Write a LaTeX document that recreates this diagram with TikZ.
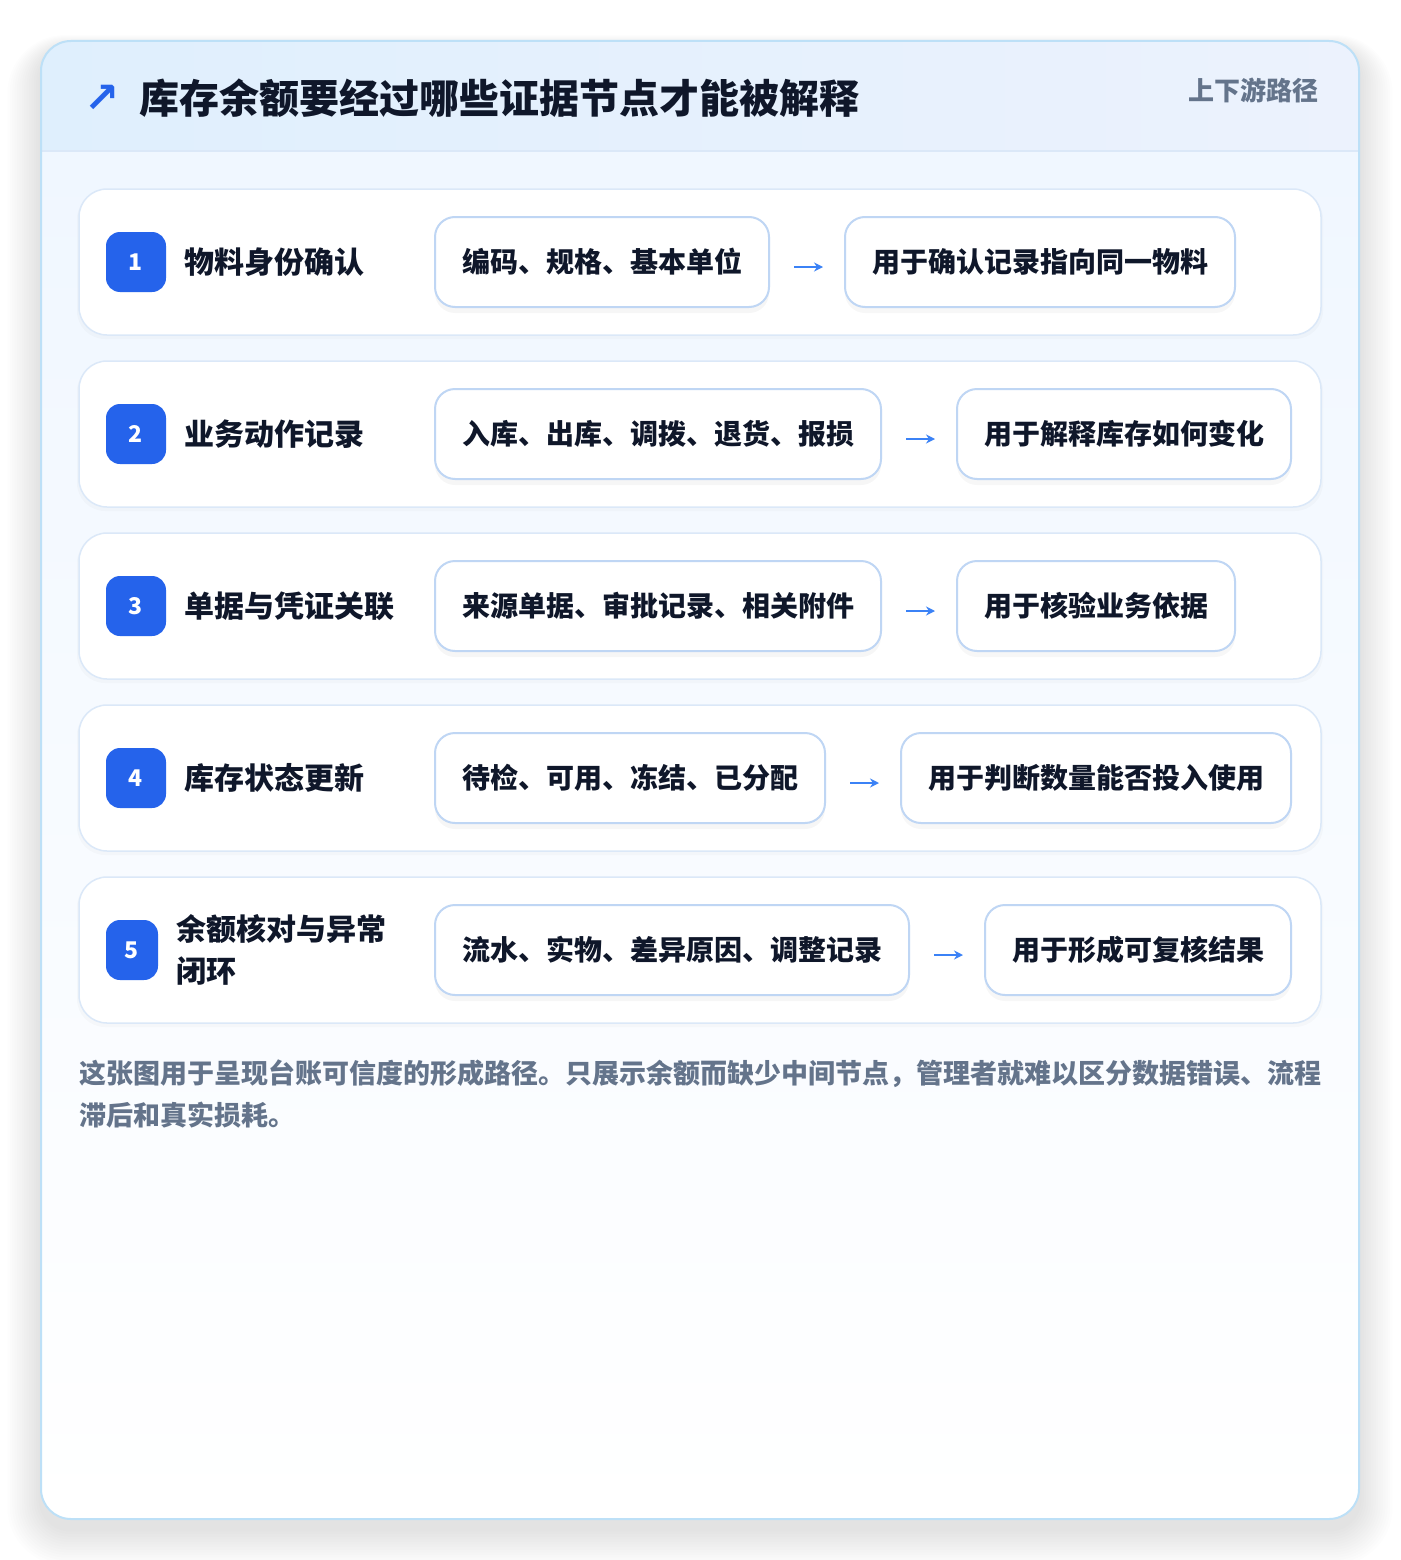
\documentclass[tikz,border=0pt]{standalone}
\usepackage{fontspec}
\setmainfont{Noto Sans CJK SC}
\newfontfamily\symfont{DejaVu Sans}
\usetikzlibrary{arrows.meta,calc}
\definecolor{ink}{HTML}{0F172A}
\definecolor{muted}{HTML}{64748B}
\definecolor{badgeblue}{HTML}{2563EB}
\definecolor{arrowblue}{HTML}{3B82F6}
\definecolor{cardline}{HTML}{BDE0F7}
\definecolor{rowline}{HTML}{DBE8F8}
\definecolor{boxline}{HTML}{BFD6F4}
\definecolor{headL}{HTML}{DFEFFD}
\definecolor{headR}{HTML}{ECF2FD}
\definecolor{bodyTop}{HTML}{F0F7FF}
\tikzset{
  rowcard/.style={fill=white, draw=rowline, line width=1.5pt, rounded corners=28pt},
  badge/.style={fill=badgeblue, rounded corners=14pt, text=white, font=\fontsize{23}{24}\selectfont\bfseries, inner sep=0pt},
  rowlabel/.style={anchor=west, text=ink, font=\fontsize{30}{42}\selectfont\bfseries, inner sep=0pt, align=left},
  pill/.style={fill=white, draw=boxline, line width=2pt, rounded corners=20pt, minimum height=90pt, text=ink, font=\fontsize{28}{30}\selectfont\bfseries, inner sep=0pt},
  flowarrow/.style={draw=arrowblue, line width=2.2pt, -{Stealth[length=9pt,width=9pt]}},
}
% #1 index, #2 row top y, #3 label, #4 box1 text, #5 box1 right, #6 box2 left, #7 box2 right, #8 box2 text, #9 badge width
\newcommand\rowitem[9]{%
  \pgfmathsetmacro\yc{#2+73}%
  \fill[black,opacity=0.02,rounded corners=28pt] (77,#2+2) rectangle (1323,#2+150);
  \draw[rowcard] (79,#2) rectangle (1321,#2+146);
  \node[badge, minimum width=#9pt, minimum height=60pt] (b#1) at ({106+#9/2},\yc) {#1};
  \node[rowlabel] (l#1) at ({106+#9+18},\yc) {#3};
  \fill[black,opacity=0.035,rounded corners=20pt] (435,\yc-42) rectangle (#5,\yc+51);
  \fill[black,opacity=0.03,rounded corners=20pt] (#6,\yc-42) rectangle (#7,\yc+51);
  \node[pill, minimum width={#5-435}] (p#1) at ({(435+#5)/2},\yc) {#4};
  \node[pill, minimum width={#7-#6}] (q#1) at ({(#6+#7)/2},\yc) {#8};
  \draw[flowarrow] ([xshift=24pt,yshift=-5pt]p#1.east) -- ([xshift=-21pt,yshift=-5pt]q#1.west);
}
\begin{document}
\begin{tikzpicture}[x=1pt,y=-1pt]
\useasboundingbox (0,0) rectangle (1400,1560);
\fill[white] (0,0) rectangle (1400,1560);
% card shadow
\foreach \i in {1,...,14}{
  \fill[black,opacity=0.006,rounded corners={30pt+\i*2pt}] ({41-\i*2.4},{41-\i*1.0+8}) rectangle ({1359+\i*2.4},{1519+\i*2.6+10});
}
% card
\begin{scope}
  \clip[rounded corners=30pt] (41,41) rectangle (1359,1519);
  \shade[left color=headL, right color=headR] (41,41) rectangle (1359,151);
  \shade[top color=bodyTop, bottom color=white] (41,151) rectangle (1359,1519);
  \draw[draw=rowline, line width=1.5pt] (41,151) -- (1359,151);
\end{scope}
\draw[draw=cardline, line width=2pt, rounded corners=30pt] (41,41) rectangle (1359,1519);
% header
\node[text=badgeblue, font=\symfont\bfseries\fontsize{42}{44}\selectfont, inner sep=0pt] (icon) at (102,99) {↗};
\node[anchor=west, text=ink, font=\fontsize{40}{44}\selectfont\bfseries, inner sep=0pt] (title) at (139,98) {库存余额要经过哪些证据节点才能被解释};
\node[anchor=east, text=muted, font=\fontsize{26}{28}\selectfont\bfseries, inner sep=0pt] (tag) at (1319,90) {上下游路径};
% rows
\rowitem{1}{189}{物料身份确认}{编码、规格、基本单位}{769}{845}{1235}{用于确认记录指向同一物料}{60}
\rowitem{2}{361}{业务动作记录}{入库、出库、调拨、退货、报损}{881}{957}{1291}{用于解释库存如何变化}{60}
\rowitem{3}{533}{单据与凭证关联}{来源单据、审批记录、相关附件}{881}{957}{1235}{用于核验业务依据}{60}
\rowitem{4}{705}{库存状态更新}{待检、可用、冻结、已分配}{825}{901}{1291}{用于判断数量能否投入使用}{60}
\rowitem{5}{877}{余额核对与异常\\闭环}{流水、实物、差异原因、调整记录}{909}{985}{1291}{用于形成可复核结果}{52}
% footer
\node[anchor=north west, text=muted, font=\fontsize{27}{42}\selectfont\bfseries, inner sep=0pt, align=left] (note) at (79,1060) {这张图用于呈现台账可信度的形成路径。只展示余额而缺少中间节点，管理者就难以区分数据错误、流程\\滞后和真实损耗。};
\end{tikzpicture}
\end{document}
